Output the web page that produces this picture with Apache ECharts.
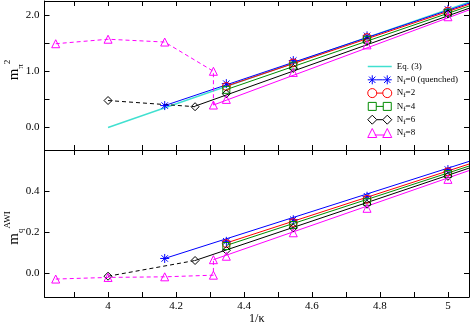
<!DOCTYPE html>
<html>
<head>
<meta charset="utf-8">
<script src="https://cdn.jsdelivr.net/npm/echarts@6/dist/echarts.min.js"></script>
<style>html,body{margin:0;padding:0;background:#fff}#c{width:471px;height:326px}</style>
</head>
<body>
<div id="c"></div>
<script>
// ---------- data ----------
const legendNames = ['Eq. (3)', 'N_f=0 (quenched)', 'N_f=2', 'N_f=4', 'N_f=6', 'N_f=8'];
const xTickValues = [3.9, 4.0, 4.1, 4.2, 4.3, 4.4, 4.5, 4.6, 4.7, 4.8, 4.9, 5.0];
const xLabelValues = [4, 4.2, 4.4, 4.6, 4.8, 5];
const yTopTickValues = [0, 0.5, 1.0, 1.5, 2.0];
const yTopLabelValues = [0, 1, 2];
const yBotTickValues = [0, 0.2, 0.4];
const yBotLabelValues = [0, 0.2, 0.4];

const xHeavy = [4.348, 4.545, 4.762, 5.0];
const xQ0 = [4.1667, 4.348, 4.545, 4.762, 5.0];
const xNf6 = [4.0, 4.256, 4.348, 4.545, 4.762, 5.0];
const xNf8 = [3.846, 4.0, 4.1667, 4.31, 4.31, 4.348, 4.545, 4.762, 5.0];

// m_pi^2 (upper panel)
const mpiQ0 = [0.39, 0.78, 1.19, 1.63, 2.10];
const mpiNf2 = [0.73, 1.15, 1.60, 2.07];
const mpiNf4 = [0.67, 1.10, 1.56, 2.04];
const mpiNf6 = [0.48, 0.37, 0.60, 1.05, 1.53, 2.02];
const mpiNf8 = [1.49, 1.57, 1.52, 1.00, 0.40, 0.50, 0.98, 1.47, 1.97];

// m_q^AWI (lower panel)
const mqQ0 = [0.072, 0.156, 0.262, 0.377, 0.508];
const mqNf2 = [0.145, 0.248, 0.362, 0.497];
const mqNf4 = [0.133, 0.236, 0.350, 0.486];
const mqNf6 = [-0.015, 0.062, 0.112, 0.222, 0.338, 0.475];
const mqNf8 = [-0.029, -0.021, -0.018, -0.010, 0.066, 0.083, 0.198, 0.318, 0.460];

// fit lines (start/end x and values)
const eq3X = [4.0, 5.062], eq3Y = [0.0, 2.23];
const fitXQ0 = [4.1667, 5.062], fitXHeavy = [4.348, 5.062], fitXNf6 = [4.256, 5.062], fitXNf8 = [4.31, 5.062];
const fitMpiQ0 = [0.39, 2.21], fitMpiNf2 = [0.735, 2.19], fitMpiNf4 = [0.675, 2.16], fitMpiNf6 = [0.38, 2.12], fitMpiNf8 = [0.40, 2.09];
const fitMqQ0 = [0.072, 0.548], fitMqNf2 = [0.148, 0.535], fitMqNf4 = [0.136, 0.525], fitMqNf6 = [0.062, 0.515], fitMqNf8 = [0.066, 0.503];

// dashed connections
const dashXNf6 = [4.0, 4.256];
const dashXNf8 = [3.846, 4.0, 4.1667, 4.31, 4.31];
const dashMpiNf6 = [0.48, 0.37];
const dashMpiNf8 = [1.49, 1.57, 1.52, 1.00, 0.40];
const dashMqNf6 = [-0.015, 0.062];
const dashMqNf8 = [-0.029, -0.021, -0.018, -0.010, 0.066];

// ---------- build ----------
const zip = (xs, ys) => xs.map((x, i) => [x, ys[i]]);
const FONT = '"Liberation Serif", "DejaVu Serif", serif';
const C = {q0: '#0000ff', nf2: '#ff0000', nf4: '#008b00', nf6: '#000000', nf8: '#ff00ff', eq3: '#40e0d0'};
const STAR = 'path://M0,-5L0,5M-5,0L5,0M-3.6,-3.6L3.6,3.6M-3.6,3.6L3.6,-3.6';
const SYM = {q0: STAR, nf2: 'circle', nf4: 'rect', nf6: 'diamond', nf8: 'triangle'};
const SIZE = {q0: 9, nf2: 8, nf4: 7, nf6: 8, nf8: 8};

// legend icons (two markers joined by a line), box 24 x 9
const ICON = {
  eq3: 'path://M0,0M24,9M0,4.5L24,4.5',
  q0: 'path://M4.5,0L4.5,9M0,4.5L9,4.5M1.3,1.3L7.7,7.7M1.3,7.7L7.7,1.3M9,4.5L15,4.5M19.5,0L19.5,9M15,4.5L24,4.5M16.3,1.3L22.7,7.7M16.3,7.7L22.7,1.3',
  nf2: 'path://M0,4.5A4.5,4.5,0,1,1,9,4.5A4.5,4.5,0,1,1,0,4.5ZM9,4.5L15,4.5M15,4.5A4.5,4.5,0,1,1,24,4.5A4.5,4.5,0,1,1,15,4.5Z',
  nf4: 'path://M0.5,0.5H8.5V8.5H0.5ZM8.5,4.5L15.5,4.5M15.5,0.5H23.5V8.5H15.5ZM0,0M24,9',
  nf6: 'path://M4.5,0L9,4.5L4.5,9L0,4.5ZM9,4.5L15,4.5M19.5,0L24,4.5L19.5,9L15,4.5Z',
  nf8: 'path://M4.5,0L9,9L0,9ZM7,6.5L17,6.5M19.5,0L24,9L15,9Z'
};
const legendKeys = ['eq3', 'q0', 'nf2', 'nf4', 'nf6', 'nf8'];
const keys = ['q0', 'nf2', 'nf4', 'nf6', 'nf8'];

function markers(name, key, data, xi, yi) {
  return {
    type: 'line', name: name, xAxisIndex: xi, yAxisIndex: yi, data: data,
    symbol: SYM[key], symbolSize: SIZE[key], showSymbol: true,
    lineStyle: {color: C[key], opacity: 0, width: 1},
    itemStyle: {color: key === 'q0' ? C[key] : 'rgba(255,255,255,0)', borderColor: C[key], borderWidth: 1},
    z: 5, silent: true
  };
}
function line(name, color, data, xi, yi, dashed, width) {
  return {
    type: 'line', name: name, xAxisIndex: xi, yAxisIndex: yi, data: data,
    symbol: 'none', showSymbol: false,
    lineStyle: {color: color, width: width || 1, type: dashed ? [4, 3] : 'solid'},
    itemStyle: {color: color},
    z: 3, silent: true
  };
}

const series = [];
// upper panel
series.push(line(legendNames[0], C.eq3, zip(eq3X, eq3Y), 0, 0, false, 1.5));
series.push(markers(legendNames[1], 'q0', zip(xQ0, mpiQ0), 0, 0));
series.push(markers(legendNames[2], 'nf2', zip(xHeavy, mpiNf2), 0, 0));
series.push(markers(legendNames[3], 'nf4', zip(xHeavy, mpiNf4), 0, 0));
series.push(markers(legendNames[4], 'nf6', zip(xNf6, mpiNf6), 0, 0));
series.push(markers(legendNames[5], 'nf8', zip(xNf8, mpiNf8), 0, 0));
series.push(line('fq0', C.q0, zip(fitXQ0, fitMpiQ0), 0, 0));
series.push(line('fnf2', C.nf2, zip(fitXHeavy, fitMpiNf2), 0, 0));
series.push(line('fnf4', C.nf4, zip(fitXHeavy, fitMpiNf4), 0, 0));
series.push(line('fnf6', C.nf6, zip(fitXNf6, fitMpiNf6), 0, 0));
series.push(line('fnf8', C.nf8, zip(fitXNf8, fitMpiNf8), 0, 0));
series.push(line('dnf6', C.nf6, zip(dashXNf6, dashMpiNf6), 0, 0, true));
series.push(line('dnf8', C.nf8, zip(dashXNf8, dashMpiNf8), 0, 0, true));
// lower panel
series.push(markers('bq0', 'q0', zip(xQ0, mqQ0), 2, 2));
series.push(markers('bnf2', 'nf2', zip(xHeavy, mqNf2), 2, 2));
series.push(markers('bnf4', 'nf4', zip(xHeavy, mqNf4), 2, 2));
series.push(markers('bnf6', 'nf6', zip(xNf6, mqNf6), 2, 2));
series.push(markers('bnf8', 'nf8', zip(xNf8, mqNf8), 2, 2));
series.push(line('bfq0', C.q0, zip(fitXQ0, fitMqQ0), 2, 2));
series.push(line('bfnf2', C.nf2, zip(fitXHeavy, fitMqNf2), 2, 2));
series.push(line('bfnf4', C.nf4, zip(fitXHeavy, fitMqNf4), 2, 2));
series.push(line('bfnf6', C.nf6, zip(fitXNf6, fitMqNf6), 2, 2));
series.push(line('bfnf8', C.nf8, zip(fitXNf8, fitMqNf8), 2, 2));
series.push(line('bdnf6', C.nf6, zip(dashXNf6, dashMqNf6), 2, 2, true));
series.push(line('bdnf8', C.nf8, zip(dashXNf8, dashMqNf8), 2, 2, true));

const X_MIN = 3.813, X_MAX = 5.062;
const axLine = {show: true, onZero: false, lineStyle: {color: '#000', width: 1}};
function xAx(grid, pos, labels) {
  return {
    type: 'value', gridIndex: grid, position: pos, min: X_MIN, max: X_MAX,
    axisLine: axLine, splitLine: {show: false},
    axisTick: {show: true, inside: true, length: 5, customValues: xTickValues, lineStyle: {color: '#000'}},
    axisLabel: {show: labels, customValues: xLabelValues, margin: 4, color: '#000', fontFamily: FONT, fontSize: 11,
      formatter: v => String(+v.toFixed(1))},
    name: labels ? '1/κ' : '', nameLocation: 'middle', nameGap: 16,
    nameTextStyle: {fontFamily: FONT, fontSize: 12, color: '#000'}
  };
}
function yAx(grid, pos, min, max, ticks, labelVals, labels) {
  return {
    type: 'value', gridIndex: grid, position: pos, min: min, max: max,
    axisLine: axLine, splitLine: {show: false},
    axisTick: {show: true, inside: true, length: 5, customValues: ticks, lineStyle: {color: '#000'}},
    axisLabel: {show: labels, customValues: labelVals, margin: 5, color: '#000', fontFamily: FONT, fontSize: 11,
      formatter: v => v.toFixed(1)}
  };
}

const richY = {
  m: {fontFamily: FONT, fontSize: 15, color: '#000', lineHeight: 22},
  sub: {fontFamily: FONT, fontSize: 9, color: '#000', verticalAlign: 'bottom', lineHeight: 12},
  sup: {fontFamily: FONT, fontSize: 9, color: '#000', verticalAlign: 'top', lineHeight: 12}
};

const option = {
  animation: false,
  backgroundColor: '#fff',
  grid: [
    {left: 44.5, right: 2, top: 1, height: 149},
    {left: 44.5, right: 2, top: 150, height: 150}
  ],
  xAxis: [xAx(0, 'bottom', false), xAx(0, 'top', false), xAx(1, 'bottom', true), xAx(1, 'top', false)],
  yAxis: [
    yAx(0, 'left', -0.4, 2.25, yTopTickValues, yTopLabelValues, true),
    yAx(0, 'right', -0.4, 2.25, yTopTickValues, yTopLabelValues, false),
    yAx(1, 'left', -0.117, 0.604, yBotTickValues, yBotLabelValues, true),
    yAx(1, 'right', -0.117, 0.604, yBotTickValues, yBotLabelValues, false)
  ],
  legend: {
    data: legendNames.map((n, i) => {
      const k = legendKeys[i];
      return {
        name: n, icon: ICON[k],
        itemStyle: {color: k === 'q0' ? C[k] : (k === 'eq3' ? 'rgba(0,0,0,0)' : 'rgba(255,255,255,0)'),
          borderColor: C[k], borderWidth: k === 'eq3' ? 1.5 : 1, opacity: 1}
      };
    }),
    orient: 'vertical', left: 367, top: 60.5,
    itemWidth: 24, itemHeight: 9, itemGap: 1.3, padding: 0,
    selectedMode: false,
    textStyle: {fontFamily: FONT, fontSize: 9, color: '#000', lineHeight: 12,
      rich: {
        t: {fontFamily: FONT, fontSize: 9, color: '#000', lineHeight: 12},
        s: {fontFamily: FONT, fontSize: 7, color: '#000', verticalAlign: 'bottom', lineHeight: 9}
      }},
    formatter: n => {
      const p = n.split('_');
      if (p.length === 1) return '{t|' + n + '}';
      return '{t|' + p[0] + '}{s|' + p[1][0] + '}{t|' + p[1].slice(1) + '}';
    }
  },
  graphic: [
    {type: 'text', x: 14, y: 70, rotation: Math.PI / 2, silent: true,
      style: {text: '{m|m}{sub|π}{sup|2}', rich: richY, align: 'center', verticalAlign: 'middle'}},
    {type: 'text', x: 14, y: 228, rotation: Math.PI / 2, silent: true,
      style: {text: '{m|m}{sub|q}{sup|AWI}', rich: richY, align: 'center', verticalAlign: 'middle'}}
  ],
  series: series
};
const chart = echarts.init(document.getElementById('c'), null, {renderer: 'canvas'});
chart.setOption(option);
</script>
</body>
</html>
